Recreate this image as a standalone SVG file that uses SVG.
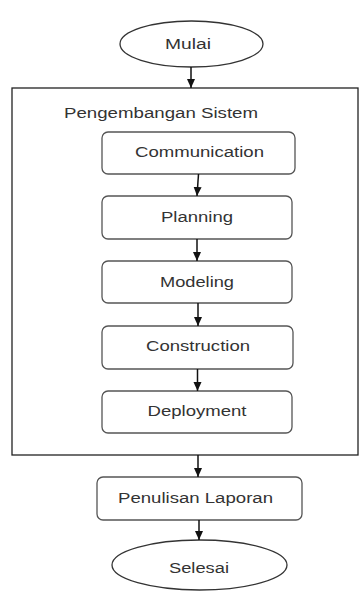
<svg xmlns="http://www.w3.org/2000/svg" width="359" height="591" viewBox="0 0 359 591">
<style>
.t{font-family:"Liberation Sans",Arial,sans-serif;font-size:14px;fill:#333;text-anchor:middle}
.box{fill:#fff;stroke:#555;stroke-width:1.3}
.ell{fill:#fff;stroke:#333;stroke-width:1.3}
.frame{fill:#fff;stroke:#222;stroke-width:1.3}
.con line{stroke:#111;stroke-width:1.5;marker-end:url(#ah)}
</style>
<defs>
<marker id="ah" markerUnits="userSpaceOnUse" markerWidth="10" markerHeight="10" refX="9" refY="5" orient="auto">
<path d="M0,1 L9,5 L0,9 Z" fill="#111"/>
</marker>
</defs>
<g id="frame">
<rect class="frame" x="12" y="88" width="346" height="367"/>
<text class="t" x="161" y="118" textLength="194" lengthAdjust="spacingAndGlyphs">Pengembangan Sistem</text>
</g>
<g id="mulai">
<ellipse class="ell" cx="191.5" cy="44" rx="71.5" ry="23"/>
<text class="t" x="188" y="49" textLength="46" lengthAdjust="spacingAndGlyphs">Mulai</text>
</g>
<g id="communication">
<rect class="box" x="102" y="132" width="193" height="42" rx="6"/>
<text class="t" x="199.5" y="157" textLength="129" lengthAdjust="spacingAndGlyphs">Communication</text>
</g>
<g id="planning">
<rect class="box" x="102" y="196" width="190" height="43" rx="6"/>
<text class="t" x="197" y="222" textLength="72" lengthAdjust="spacingAndGlyphs">Planning</text>
</g>
<g id="modeling">
<rect class="box" x="102" y="261" width="190" height="42" rx="6"/>
<text class="t" x="197" y="287" textLength="74" lengthAdjust="spacingAndGlyphs">Modeling</text>
</g>
<g id="construction">
<rect class="box" x="102" y="326" width="191" height="43" rx="6"/>
<text class="t" x="198" y="351" textLength="104" lengthAdjust="spacingAndGlyphs">Construction</text>
</g>
<g id="deployment">
<rect class="box" x="102" y="391" width="190" height="42" rx="6"/>
<text class="t" x="197" y="416" textLength="99" lengthAdjust="spacingAndGlyphs">Deployment</text>
</g>
<g id="penulisan">
<rect class="box" x="97" y="477" width="205" height="43" rx="6"/>
<text class="t" x="195.5" y="503" textLength="155" lengthAdjust="spacingAndGlyphs">Penulisan Laporan</text>
</g>
<g id="selesai">
<ellipse class="ell" cx="199.5" cy="565" rx="87.5" ry="25"/>
<text class="t" x="199" y="573" textLength="60" lengthAdjust="spacingAndGlyphs">Selesai</text>
</g>
<g id="connectors" class="con">
<line x1="191" y1="67" x2="191" y2="88"/>
<line x1="198.5" y1="174" x2="197" y2="196"/>
<line x1="197" y1="239" x2="197" y2="261"/>
<line x1="198" y1="303" x2="198" y2="326"/>
<line x1="197.5" y1="369" x2="197.5" y2="391"/>
<line x1="198" y1="455" x2="198" y2="477"/>
<line x1="199" y1="520" x2="199" y2="540"/>
</g>
</svg>
